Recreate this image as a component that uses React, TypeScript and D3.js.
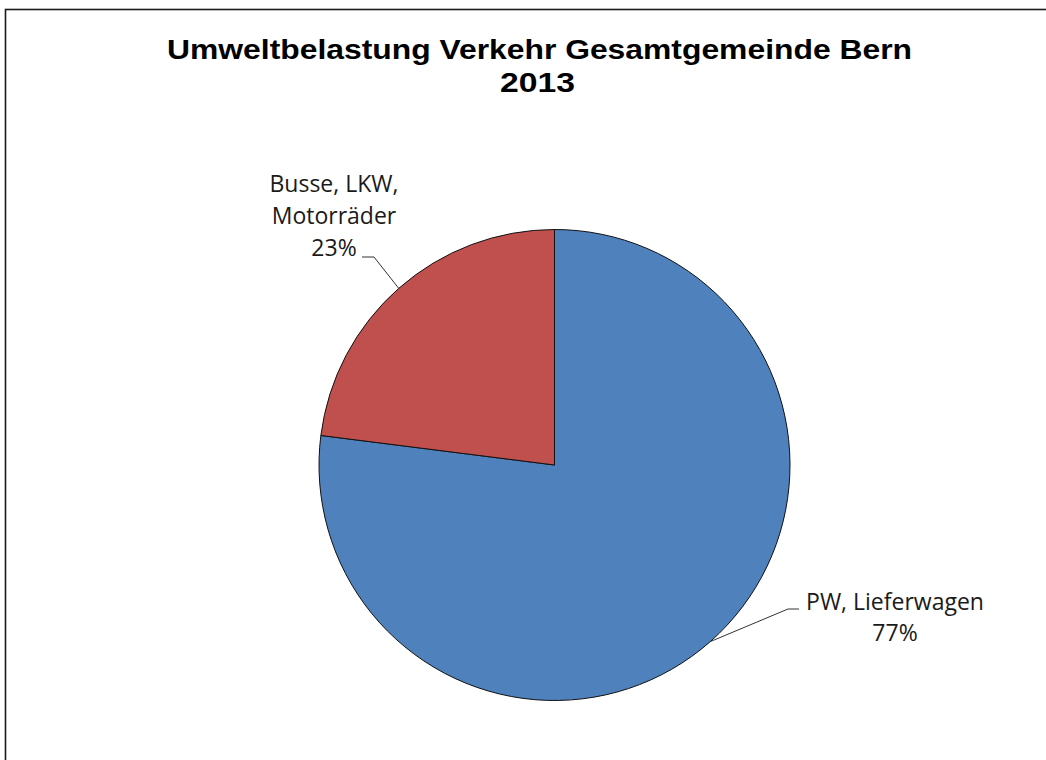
import React from "react";
import * as d3 from "d3";

const categories = ["PW, Lieferwagen", "Busse, LKW, Motorräder"];
const values = [77, 23];
const percentLabels = ["77%", "23%"];
const colors = ["#4F81BD", "#C0504D"];
const titleLines = ["Umweltbelastung Verkehr Gesamtgemeinde Bern", "2013"];

const W = 1046;
const H = 760;
const cx = 554.5;
const cy = 465;
const R = 235.5;

// label layout: text lines, center x, first baseline, line gap, leader elbow + end
const labelLayout = [
  {
    lines: ["PW, Lieferwagen", "77%"],
    x: 895,
    y: 610,
    gap: 31,
    elbow: [788, 609],
    end: [799, 609],
  },
  {
    lines: ["Busse, LKW,", "Motorräder", "23%"],
    x: 334,
    y: 192,
    gap: 32,
    elbow: [374, 257],
    end: [362, 257],
  },
];

export default function App() {
  const pie = d3
    .pie<number>()
    .sort(null)
    .startAngle(0)
    .endAngle(2 * Math.PI)
    .value((d) => d);
  const arcs = pie(values);
  const arc = d3.arc<d3.PieArcDatum<number>>().innerRadius(0).outerRadius(R);
  const edge = d3.arc<d3.PieArcDatum<number>>().innerRadius(R).outerRadius(R);

  return (
    <svg
      width={W}
      height={H}
      style={{ position: "absolute", left: 0, top: 0, background: "#fff" }}
    >
      <rect x={0} y={0} width={W} height={H} fill="#fff" />
      <rect
        x={5.5}
        y={9.5}
        width={W + 20}
        height={H + 20}
        fill="none"
        stroke="#1a1a1a"
        strokeWidth={1.6}
      />
      <g
        fontFamily="'Liberation Sans', Arial, sans-serif"
        fontWeight="bold"
        fontSize={28.5}
        fill="#000"
        textAnchor="middle"
      >
        <text
          x={539.5}
          y={59}
          textLength={745}
          lengthAdjust="spacingAndGlyphs"
        >
          {titleLines[0]}
        </text>
        <text x={537.5} y={92} textLength={75} lengthAdjust="spacingAndGlyphs">
          {titleLines[1]}
        </text>
      </g>
      <g transform={`translate(${cx},${cy})`}>
        {arcs.map((a, i) => (
          <path
            key={categories[i]}
            d={arc(a) || ""}
            fill={colors[i]}
            stroke="#111"
            strokeWidth={1}
            strokeLinejoin="round"
          />
        ))}
      </g>
      {arcs.map((a, i) => {
        const [ex, ey] = edge.centroid(a);
        const L = labelLayout[i];
        const pts = [
          [cx + ex, cy + ey],
          L.elbow,
          L.end,
        ];
        return (
          <g key={"lbl" + i}>
            <polyline
              points={pts.map((p) => p.join(",")).join(" ")}
              fill="none"
              stroke="#333"
              strokeWidth={1}
            />
            <text
              fontFamily="'Open Sans', sans-serif"
              fontSize={23}
              fill="#1a1a1a"
              textAnchor="middle"
            >
              {L.lines.map((ln, j) => (
                <tspan key={j} x={L.x} y={L.y + j * L.gap}>
                  {j === L.lines.length - 1 ? percentLabels[i] : ln}
                </tspan>
              ))}
            </text>
          </g>
        );
      })}
    </svg>
  );
}
